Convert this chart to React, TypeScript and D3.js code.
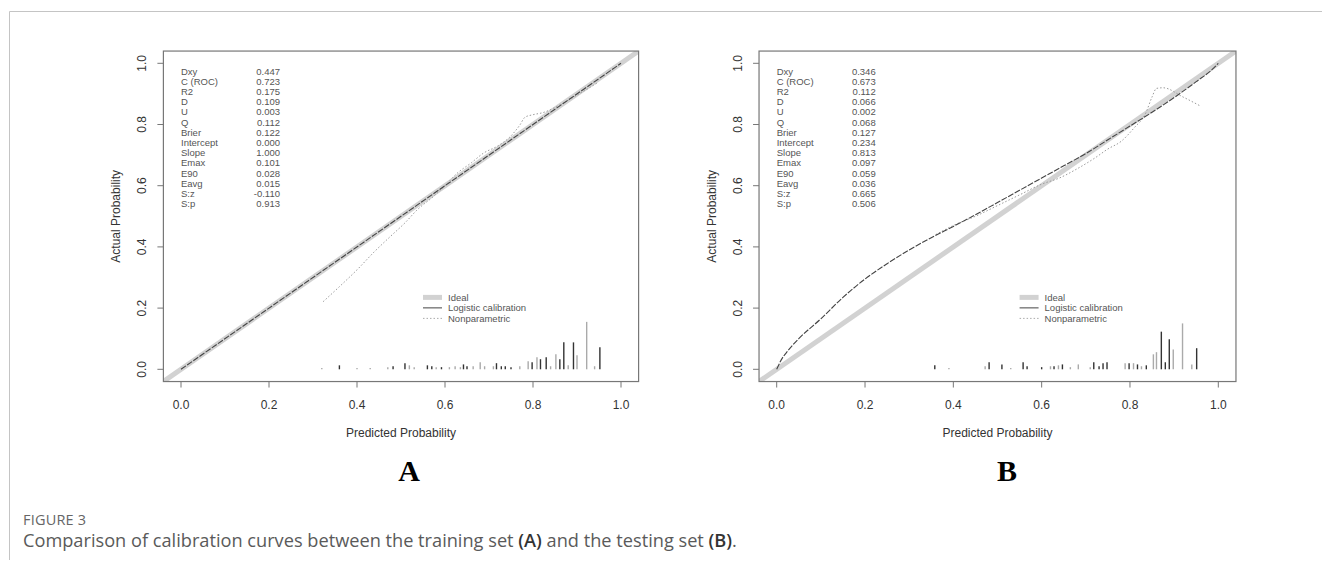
import React from 'react';
import * as d3 from 'd3';

// stats printed in the top-left of each panel
const statNames = ['Dxy', 'C (ROC)', 'R2', 'D', 'U', 'Q', 'Brier', 'Intercept', 'Slope', 'Emax', 'E90', 'Eavg', 'S:z', 'S:p'];
const statsA = ['0.447', '0.723', '0.175', '0.109', '0.003', '0.112', '0.122', '0.000', '1.000', '0.101', '0.028', '0.015', '-0.110', '0.913'];
const statsB = ['0.346', '0.673', '0.112', '0.066', '0.002', '0.068', '0.127', '0.234', '0.813', '0.097', '0.059', '0.036', '0.665', '0.506'];

const ticks = [0, 0.2, 0.4, 0.6, 0.8, 1.0];
const legendLabels = ['Ideal', 'Logistic calibration', 'Nonparametric'];

// logistic calibration curves [predicted, actual]
const logisticA: [number, number][] = [[0, 0], [0.25, 0.25], [0.5, 0.5], [0.75, 0.75], [1, 1]];
const logisticB: [number, number][] = [
  [0, 0], [0.01, 0.03], [0.025, 0.06], [0.05, 0.1], [0.1, 0.165], [0.15, 0.235], [0.2, 0.295],
  [0.25, 0.345], [0.3, 0.39], [0.35, 0.43], [0.4, 0.467], [0.45, 0.505], [0.5, 0.545], [0.55, 0.585],
  [0.6, 0.625], [0.65, 0.665], [0.7, 0.705], [0.75, 0.75], [0.8, 0.795], [0.85, 0.84], [0.9, 0.888],
  [0.95, 0.94], [0.99, 0.985], [1, 1],
];

// nonparametric (lowess) curves
const nonparA: [number, number][] = [
  [0.323, 0.221], [0.36, 0.27], [0.4, 0.325], [0.44, 0.385], [0.475, 0.433], [0.51, 0.48], [0.536, 0.52],
  [0.573, 0.564], [0.6, 0.6], [0.627, 0.64], [0.66, 0.675], [0.687, 0.706], [0.72, 0.73], [0.748, 0.76],
  [0.77, 0.798], [0.782, 0.824], [0.8, 0.832], [0.823, 0.839], [0.861, 0.864], [0.907, 0.902], [0.945, 0.935],
];
const nonparB: [number, number][] = [
  [0.36, 0.44], [0.4, 0.47], [0.45, 0.5], [0.5, 0.535], [0.55, 0.57], [0.6, 0.605], [0.64, 0.625],
  [0.68, 0.655], [0.72, 0.69], [0.75, 0.72], [0.78, 0.745], [0.81, 0.79], [0.835, 0.835], [0.85, 0.89],
  [0.86, 0.918], [0.875, 0.92], [0.92, 0.89], [0.96, 0.86],
];

// spike histogram of predictions: [x, height, dark?]
const spikesA: [number, number, number][] = [
  [0.32, 0.004, 0], [0.36, 0.013, 1], [0.4, 0.004, 0], [0.43, 0.004, 0], [0.47, 0.007, 0], [0.482, 0.01, 1],
  [0.509, 0.02, 1], [0.519, 0.013, 0], [0.53, 0.007, 0], [0.56, 0.013, 1], [0.57, 0.01, 1], [0.58, 0.007, 0],
  [0.592, 0.007, 1], [0.61, 0.007, 0], [0.623, 0.01, 0], [0.635, 0.007, 0], [0.642, 0.016, 1], [0.65, 0.01, 1],
  [0.664, 0.01, 0], [0.68, 0.023, 0], [0.69, 0.01, 0], [0.71, 0.01, 0], [0.717, 0.02, 1], [0.728, 0.01, 1],
  [0.737, 0.01, 1], [0.75, 0.007, 1], [0.77, 0.01, 0], [0.789, 0.026, 0], [0.798, 0.023, 1], [0.809, 0.039, 0],
  [0.817, 0.033, 1], [0.83, 0.039, 1], [0.84, 0.01, 0], [0.852, 0.049, 0], [0.861, 0.033, 1], [0.87, 0.088, 1],
  [0.88, 0.013, 0], [0.892, 0.088, 1], [0.9, 0.046, 0], [0.922, 0.155, 0], [0.94, 0.01, 0], [0.952, 0.072, 1],
];
const spikesB: [number, number, number][] = [
  [0.358, 0.013, 1], [0.39, 0.004, 0], [0.472, 0.01, 0], [0.481, 0.023, 1], [0.51, 0.016, 1], [0.53, 0.004, 0],
  [0.558, 0.023, 1], [0.567, 0.01, 1], [0.6, 0.007, 1], [0.62, 0.01, 0], [0.628, 0.01, 1], [0.638, 0.013, 0],
  [0.647, 0.016, 1], [0.665, 0.007, 0], [0.683, 0.016, 0], [0.71, 0.007, 0], [0.718, 0.023, 1], [0.73, 0.01, 1],
  [0.739, 0.02, 1], [0.748, 0.023, 1], [0.789, 0.02, 0], [0.798, 0.02, 1], [0.808, 0.02, 0], [0.817, 0.016, 1],
  [0.826, 0.01, 0], [0.837, 0.013, 1], [0.853, 0.049, 0], [0.86, 0.056, 0], [0.871, 0.123, 1], [0.88, 0.023, 1],
  [0.889, 0.098, 1], [0.898, 0.065, 0], [0.919, 0.15, 0], [0.94, 0.016, 0], [0.951, 0.069, 1],
];

const W = 1322;
const H = 567;
const font = 'Liberation Sans, Arial, sans-serif';

function Panel({ x0, x1, stats, logistic, nonpar, spikes, letter, letterX }) {
  const x = d3.scaleLinear().domain([0, 1]).range([x0, x1]);
  const y = d3.scaleLinear().domain([0, 1]).range([369.3, 63.3]);
  const line = d3.line<[number, number]>().x(d => x(d[0])).y(d => y(d[1])).curve(d3.curveMonotoneX);
  const lo = -0.04, hi = 1.04;
  const bx = x(lo), by = y(hi), bw = x(hi) - x(lo), bh = y(lo) - y(hi);
  const rowH = 10.2;
  const legX = x(0.55), legY = y(0.235);

  return (
    <g>
      <defs>
        <clipPath id={'clip' + letter}>
          <rect x={bx} y={by} width={bw} height={bh} />
        </clipPath>
      </defs>
      <g clipPath={`url(#clip${letter})`}>
        <line x1={x(lo)} y1={y(lo)} x2={x(hi)} y2={y(hi)} stroke="#d2d2d2" strokeWidth={5} />
        <path d={line(nonpar)} fill="none" stroke="#9a9a9a" strokeWidth={1} strokeDasharray="1.5 2" />
        <path d={line(logistic)} fill="none" stroke="#444" strokeWidth={1.1} strokeDasharray="6 1.5" />
      </g>
      {spikes.map((s, i) => (
        <line key={i} x1={x(s[0])} x2={x(s[0])} y1={y(0)} y2={y(s[1])}
          stroke={s[2] ? '#333' : '#aaa'} strokeWidth={1.4} />
      ))}
      <rect x={bx} y={by} width={bw} height={bh} fill="none" stroke="#777" strokeWidth={1.2} />

      {/* x axis */}
      {ticks.map(t => (
        <g key={'x' + t}>
          <line x1={x(t)} x2={x(t)} y1={by + bh} y2={by + bh + 6} stroke="#777" />
          <text x={x(t)} y={409} textAnchor="middle" fontSize={12} fill="#333" fontFamily={font}>{t.toFixed(1)}</text>
        </g>
      ))}
      {/* y axis */}
      {ticks.map(t => (
        <g key={'y' + t}>
          <line x1={bx - 6} x2={bx} y1={y(t)} y2={y(t)} stroke="#777" />
          <text transform={`translate(${bx - 17},${y(t)}) rotate(-90)`} textAnchor="middle" fontSize={12} fill="#333" fontFamily={font}>{t.toFixed(1)}</text>
        </g>
      ))}
      <text x={(bx + bx + bw) / 2} y={437} textAnchor="middle" fontSize={12} fill="#333" fontFamily={font}>Predicted Probability</text>
      <text transform={`translate(${bx - 43},${by + bh / 2}) rotate(-90)`} textAnchor="middle" fontSize={12} fill="#333" fontFamily={font}>Actual Probability</text>

      {/* stats */}
      {statNames.map((n, i) => (
        <g key={n}>
          <text x={x(0)} y={74.5 + i * rowH} fontSize={9.5} fill="#555" fontFamily={font}>{n}</text>
          <text x={x(0) + 99} y={74.5 + i * rowH} textAnchor="end" fontSize={9.5} fill="#555" fontFamily={font}>{stats[i]}</text>
        </g>
      ))}

      {/* legend */}
      {legendLabels.map((l, i) => (
        <g key={l}>
          <line x1={legX} x2={legX + 19} y1={legY + i * 10.5} y2={legY + i * 10.5}
            stroke={i === 0 ? '#d2d2d2' : i === 1 ? '#444' : '#aaa'}
            strokeWidth={i === 0 ? 5 : 1} strokeDasharray={i === 2 ? '1.5 2' : undefined} />
          <text x={legX + 25} y={legY + i * 10.5 + 3.5} fontSize={9.5} fill="#555" fontFamily={font}>{l}</text>
        </g>
      ))}

      <text x={letterX} y={481} textAnchor="middle" fontSize={30} fontWeight="bold" fill="#000"
        fontFamily="Liberation Serif, Times New Roman, serif">{letter}</text>
    </g>
  );
}

export default function App() {
  return (
    <svg width={W} height={H} style={{ position: 'absolute', left: 0, top: 0, background: '#fff' }}>
      <rect width={W} height={H} fill="#fff" />
      <path d={`M9.5,560 V11.5 H${W}`} fill="none" stroke="#c4c4c4" strokeWidth={1} />
      <Panel x0={181} x1={621} stats={statsA} logistic={logisticA} nonpar={nonparA} spikes={spikesA} letter="A" letterX={409} />
      <Panel x0={776.7} x1={1218.3} stats={statsB} logistic={logisticB} nonpar={nonparB} spikes={spikesB} letter="B" letterX={1007} />
      <text x={23} y={525} fontSize={14.5} fill="#666" fontFamily="Open Sans, sans-serif" letterSpacing={0.2}>FIGURE 3</text>
      <text x={23} y={547} fontSize={18.2} fill="#5a5a5a" fontFamily="Open Sans, sans-serif">
        Comparison of calibration curves between the training set <tspan fontWeight={600} fill="#333">(A)</tspan> and the testing set <tspan fontWeight={600} fill="#333">(B)</tspan>.
      </text>
    </svg>
  );
}
